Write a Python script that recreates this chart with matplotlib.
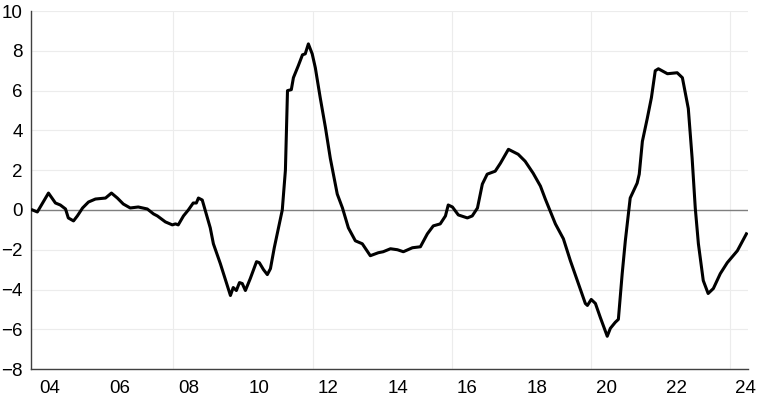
import matplotlib
matplotlib.use("Agg")
import matplotlib.pyplot as plt

# decimal years and values
years = [2003.95, 2004.09, 2004.41, 2004.61, 2004.75, 2004.90, 2004.98, 2005.13,
         2005.24, 2005.39, 2005.56, 2005.76, 2006.05, 2006.22, 2006.39, 2006.56,
         2006.76, 2006.99, 2007.25, 2007.43, 2007.54, 2007.77, 2007.97, 2008.06,
         2008.14, 2008.29, 2008.43, 2008.57, 2008.66, 2008.72, 2008.83, 2008.92,
         2009.06, 2009.15, 2009.35, 2009.44, 2009.64, 2009.72, 2009.81, 2009.90,
         2009.98, 2010.07, 2010.21, 2010.39, 2010.47, 2010.59, 2010.70, 2010.79,
         2010.90, 2011.02, 2011.13, 2011.22, 2011.28, 2011.39, 2011.45, 2011.59,
         2011.71, 2011.79, 2011.88, 2011.99, 2012.08, 2012.22, 2012.37, 2012.51,
         2012.71, 2012.86, 2013.03, 2013.23, 2013.43, 2013.66, 2013.89, 2014.03,
         2014.24, 2014.44, 2014.61, 2014.87, 2015.10, 2015.30, 2015.47, 2015.67,
         2015.82, 2015.90, 2016.02, 2016.19, 2016.45, 2016.59, 2016.74, 2016.88,
         2017.02, 2017.25, 2017.40, 2017.63, 2017.91, 2018.11, 2018.34, 2018.55,
         2018.69, 2018.83, 2018.98, 2019.21, 2019.41, 2019.61, 2019.84, 2019.90,
         2020.01, 2020.13, 2020.27, 2020.47, 2020.56, 2020.70, 2020.79, 2020.90,
         2020.99, 2021.13, 2021.33, 2021.39, 2021.48, 2021.62, 2021.74, 2021.85,
         2021.94, 2022.20, 2022.48, 2022.63, 2022.80, 2022.91, 2023.00, 2023.09,
         2023.23, 2023.37, 2023.52, 2023.72, 2023.92, 2024.21, 2024.47]
values = [0.0, -0.1, 0.85, 0.35, 0.25, 0.05, -0.4, -0.55,
          -0.3, 0.1, 0.4, 0.55, 0.6, 0.85, 0.6, 0.3,
          0.1, 0.15, 0.05, -0.2, -0.3, -0.6, -0.75, -0.7,
          -0.75, -0.3, 0.0, 0.35, 0.35, 0.6, 0.5, -0.05,
          -0.9, -1.7, -2.7, -3.2, -4.3, -3.9, -4.05, -3.65,
          -3.7, -4.05, -3.45, -2.6, -2.65, -3.0, -3.25, -2.95,
          -1.9, -0.9, 0.0, 2.0, 6.0, 6.05, 6.65, 7.25,
          7.8, 7.85, 8.35, 7.85, 7.15, 5.65, 4.15, 2.6,
          0.8, 0.1, -0.9, -1.55, -1.7, -2.3, -2.15, -2.1,
          -1.95, -2.0, -2.1, -1.9, -1.85, -1.2, -0.8, -0.7,
          -0.3, 0.25, 0.15, -0.25, -0.4, -0.3, 0.1, 1.3,
          1.8, 1.95, 2.35, 3.05, 2.8, 2.45, 1.85, 1.2,
          0.55, -0.05, -0.7, -1.45, -2.55, -3.55, -4.7, -4.8,
          -4.5, -4.7, -5.4, -6.35, -5.95, -5.65, -5.5, -3.2,
          -1.55, 0.6, 1.35, 1.8, 3.45, 4.6, 5.65, 7.0,
          7.1, 6.85, 6.9, 6.65, 5.1, 2.6, 0.1, -1.7,
          -3.55, -4.2, -3.95, -3.2, -2.65, -2.05, -1.2]

tick_years = [2004, 2006, 2008, 2010, 2012, 2014, 2016, 2018, 2020, 2022, 2024]
tick_labels = ['04', '06', '08', '10', '12', '14', '16', '18', '20', '22', '24']
vgrid_years = [2008, 2012, 2016, 2020, 2024]

plt.rcParams['font.family'] = ['Liberation Sans', 'DejaVu Sans']

fig = plt.figure(figsize=(7.58, 3.96), dpi=100)
ax = fig.add_axes([0.041, 0.068, 0.946, 0.904])

for y in range(-8, 11, 2):
    if y != 0:
        ax.axhline(y, color='#ececec', lw=0.8, zorder=0)
for x in vgrid_years:
    ax.axvline(x, color='#ececec', lw=0.8, zorder=0)
ax.axhline(0, color='#7f7f7f', lw=1.0, zorder=1)

ax.plot(years, values, color='black', lw=2.2, zorder=3)

ax.set_xlim(2003.91, 2024.52)
ax.set_ylim(-8, 10)
ax.set_yticks(range(-8, 11, 2))
ax.set_xticks([t + 0.45 for t in tick_years])
ax.set_xticklabels(tick_labels)
ax.tick_params(axis='both', length=0, labelsize=13.5, colors='black')
ax.tick_params(axis='y', pad=6)
ax.tick_params(axis='x', pad=8)

for s in ['top', 'right']:
    ax.spines[s].set_visible(False)
ax.spines['left'].set_color('#404040')
ax.spines['bottom'].set_color('#404040')
ax.spines['left'].set_linewidth(1.0)
ax.spines['bottom'].set_linewidth(1.0)

fig.savefig('out.png', dpi=100)
